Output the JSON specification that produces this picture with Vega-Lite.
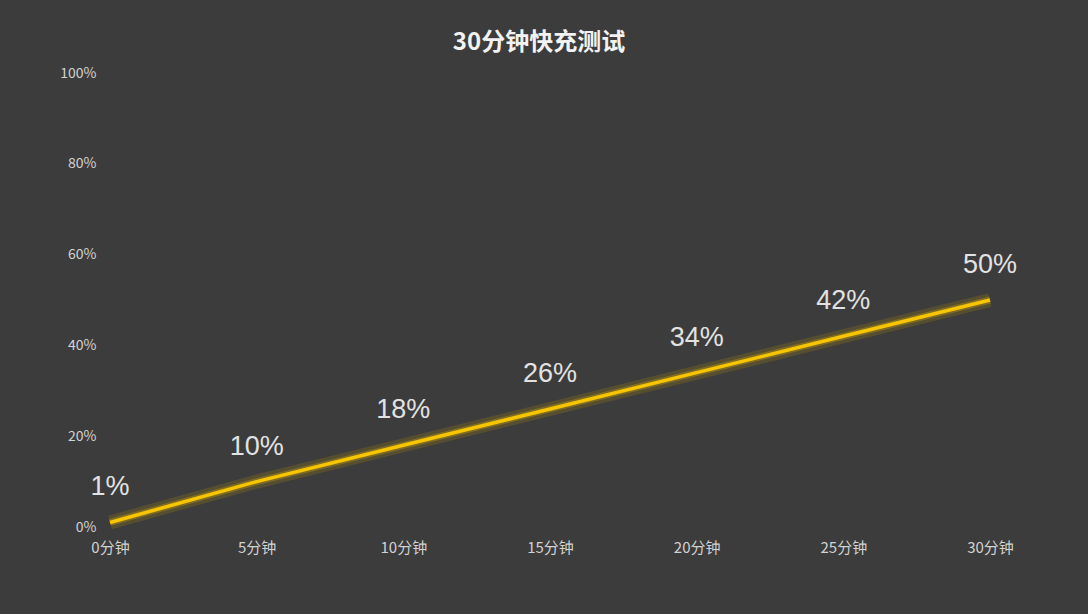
{
  "$schema": "https://vega.github.io/schema/vega-lite/v6.json",
  "width": 880,
  "height": 454,
  "autosize": {"type": "none"},
  "padding": {"left": 110, "top": 73, "right": 98, "bottom": 87},
  "background": "#3c3c3c",
  "title": {
    "text": "30分钟快充测试",
    "font": "Noto Sans CJK SC",
    "fontSize": 24,
    "fontWeight": "bold",
    "color": "#f2f2f2",
    "anchor": "middle",
    "dx": -11,
    "offset": 11
  },
  "config": {
    "view": {"stroke": null},
    "axis": {
      "grid": false,
      "domain": false,
      "ticks": false,
      "labelColor": "#d2d2d2",
      "labelFont": "Noto Sans CJK SC",
      "labelFlush": false,
      "title": null
    }
  },
  "data": {
    "values": [
      {"minute": 0, "pct": 1},
      {"minute": 5, "pct": 10},
      {"minute": 10, "pct": 18},
      {"minute": 15, "pct": 26},
      {"minute": 20, "pct": 34},
      {"minute": 25, "pct": 42},
      {"minute": 30, "pct": 50}
    ]
  },
  "encoding": {
    "x": {
      "field": "minute",
      "type": "quantitative",
      "scale": {"domain": [0, 30], "nice": false},
      "axis": {"values": [0, 5, 10, 15, 20, 25, 30], "labelExpr": "datum.value + '分钟'", "labelPadding": 13, "labelFontSize": 15}
    },
    "y": {
      "field": "pct",
      "type": "quantitative",
      "scale": {"domain": [0, 100], "nice": false},
      "axis": {"values": [0, 20, 40, 60, 80, 100], "labelExpr": "datum.value + '%'", "labelPadding": 14, "labelFontSize": 14}
    }
  },
  "layer": [
    {"mark": {"type": "line", "color": "#c9a200", "strokeWidth": 14, "opacity": 0.18, "strokeCap": "butt"}},
    {"mark": {"type": "line", "color": "#e0b400", "strokeWidth": 7, "opacity": 0.3, "strokeCap": "butt"}},
    {"mark": {"type": "line", "color": "#f7c600", "strokeWidth": 3.5, "strokeCap": "butt"}},
    {
      "mark": {"type": "text", "dy": -35, "fontSize": 27, "font": "Liberation Sans", "color": "#e2e2e2", "baseline": "middle"},
      "encoding": {"text": {"field": "label"}}
    }
  ],
  "transform": [{"calculate": "datum.pct + '%'", "as": "label"}]
}
